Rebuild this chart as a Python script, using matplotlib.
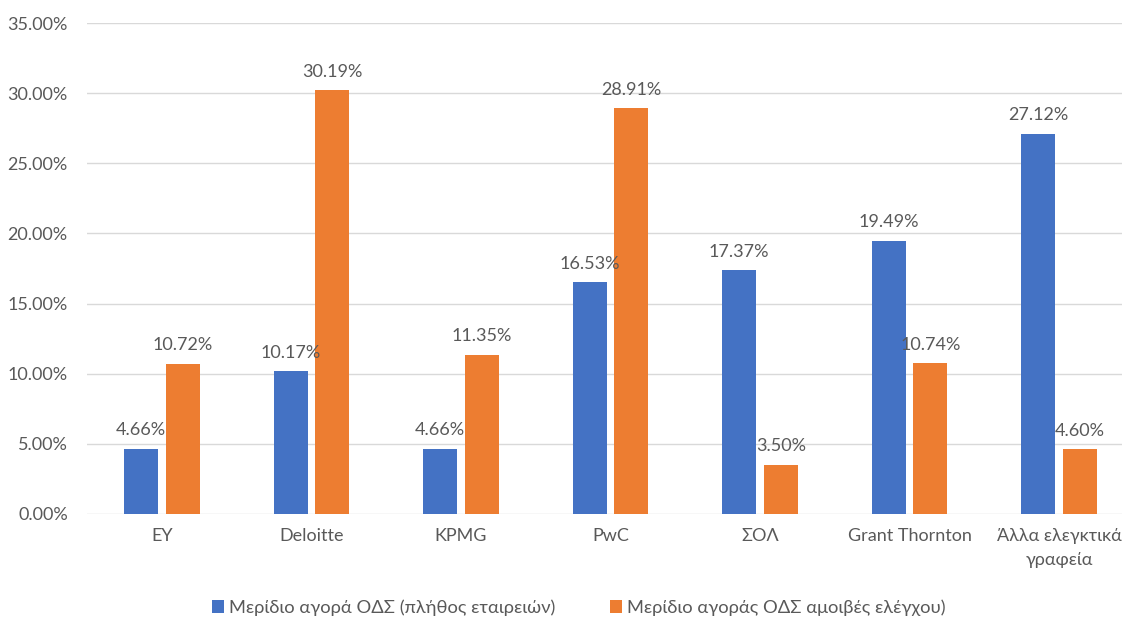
import numpy as np
import matplotlib.pyplot as plt

plt.rcParams['font.family'] = ['Lato', 'DejaVu Sans']

categories = ["EY", "Deloitte", "KPMG", "PwC", "ΣΟΛ", "Grant Thornton", "Άλλα ελεγκτικά\nγραφεία"]
share_count = [4.66, 10.17, 4.66, 16.53, 17.37, 19.49, 27.12]
share_fees = [10.72, 30.19, 11.35, 28.91, 3.50, 10.74, 4.60]
series_names = ["Μερίδιο αγορά ΟΔΣ (πλήθος εταιρειών)", "Μερίδιο αγοράς ΟΔΣ αμοιβές ελέγχου)"]

blue = '#4472C4'
orange = '#ED7D31'
grey = '#595959'

fig = plt.figure(figsize=(11.22, 6.17), dpi=100)
ax = fig.add_axes([87.25 / 1122, 103 / 617, (1122 - 87.25) / 1122, 491 / 617])

x = np.arange(len(categories))
w = 0.227
off = 0.14
b1 = ax.bar(x - off, share_count, w, color=blue, label=series_names[0], zorder=3)
b2 = ax.bar(x + off, share_fees, w, color=orange, label=series_names[1], zorder=3)

for bars, vals in [(b1, share_count), (b2, share_fees)]:
    for r, v in zip(bars, vals):
        ax.text(r.get_x() + r.get_width() / 2, v + 0.75, f"{v:.2f}%", ha='center', va='bottom',
                fontsize=13, color=grey)

ax.set_xlim(-0.5, (1122 - 87.25) / 149.5 - 0.5)
ax.set_ylim(0, 35)
ax.set_yticks(np.arange(0, 36, 5))
ax.set_yticklabels([f"{t:.2f}%" for t in np.arange(0, 36, 5)])
ax.set_xticks(x)
ax.set_xticklabels(categories, linespacing=1.6)
ax.tick_params(axis='both', length=0, labelsize=13, labelcolor=grey)
ax.tick_params(axis='y', pad=14)
ax.tick_params(axis='x', pad=10)
ax.grid(axis='y', color='#D9D9D9', linewidth=1, zorder=0)
for s in ax.spines.values():
    s.set_visible(False)

fig.legend(loc='lower center', bbox_to_anchor=(0.516, -0.025), ncol=2, frameon=False,
           fontsize=13.2, labelcolor=grey, handlelength=0.65, handleheight=0.65,
           handletextpad=0.25, columnspacing=3.0)

plt.savefig("out.png", dpi=100)
